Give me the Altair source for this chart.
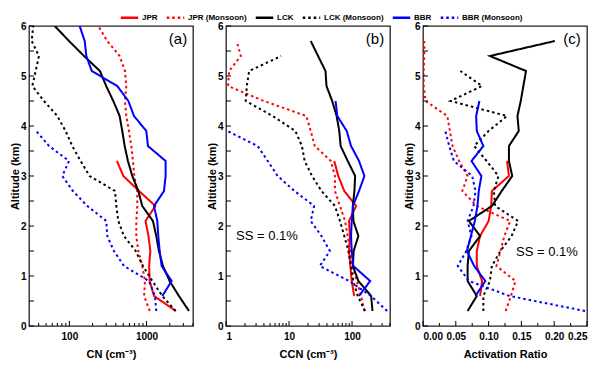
import altair as alt
import pandas as pd

# Altitude grid (km) shared by all profiles
ALT = [0.3, 0.6, 0.9, 1.2, 1.5, 1.8, 2.1, 2.4, 2.7, 3.0,
       3.3, 3.6, 3.9, 4.2, 4.5, 4.8, 5.1, 5.4, 5.7, 6.0]

SERIES = ["JPR", "JPR (Monsoon)", "LCK", "LCK (Monsoon)", "BBR", "BBR (Monsoon)"]
COLORS = ["#ff0000", "#ff0000", "#000000", "#000000", "#0000ff", "#0000ff"]
DASHES = [[1, 0], [2.5, 3], [1, 0], [2.5, 3], [1, 0], [2.5, 3]]

# ---- (a) CN (cm-3); each list starts at the altitude given in frame() below
cn_jpr = [2400, 1250, 1100, 1080, 1120, 1060, 970, 1300, 800, 500, 414]                      # start 0.3
cn_jpr_m = [1100, 930, 954, 881, 783, 737, 737, 760, 759, 694, 667, 635, 592, 547, 525, 547,
            525, 448, 310, 237]                                                              # start 0.3
cn_lck = [3550, 2630, 1991, 1633, 1449, 1337, 1211, 881, 783, 654, 574, 521, 485, 448, 371, 300,
          249, 155, 99, 64.6]                                                                # start 0.3
cn_lck_m = [2380, 1600, 1188, 899, 723, 510, 431, 406, 390, 183, 140, 109, 89.5, 69.8, 46.9, 33.1,
            36.6, 40.4, 32.5, 34]                                                            # start 0.3
cn_bbr = [1600, 2115, 1569, 1479, 1420, 1378, 1250, 1683, 1767, 1767, 1043, 993, 688, 581, 418,
          195, 166, 158, 136]                                                                # start 0.6
cn_bbr_m = [1337, 1286, 1075, 510, 378, 310, 301, 171, 111, 81, 99, 54.5, 37.3]              # start 0.3

# ---- (b) CCN (cm-3)
ccn_jpr = [108, 98.8, 94, 89.5, 92.9, 89.5, 116, 75.3, 60.4, 52.2]                          # start 0.6
ccn_jpr_m = [157, 139, 119, 101, 92.9, 85.3, 77.3, 64.3, 53.5, 53.5, 46.1, 25.6, 22.1, 18.8, 4.0,
             1.08, 1.12, 1.72, 1.48]                                                         # start 0.3
ccn_lck = [211, 201, 126, 103, 106, 126, 105, 103, 109, 112, 85.3, 65.9, 62.7, 56.9, 48.4, 39.3,
           37.9, 28.9, 22.1]                                                                 # start 0.3
ccn_lck_m = [161, 123, 105, 96.4, 87.4, 75.3, 64.3, 53.5, 32.7, 23.2, 17.7, 16.0, 12.6, 5.5, 2.06,
             2.14, 2.33, 7.5]                                                                # start 0.3
ccn_bbr = [129, 194, 105, 98.8, 96.4, 98.8, 103, 129, 157, 129, 96.4, 82.2, 58.3, 54.8]      # start 0.6
ccn_bbr_m = [360, 200, 90, 30.8, 44.5, 32.7, 22.1, 25.0, 12.2, 6.6, 4.6, 3.17, 1.05]        # start 0.3

# ---- (c) Activation ratio
ar_jpr = [0.087, 0.090, 0.082, 0.082, 0.087, 0.100, 0.104, 0.105, 0.131, 0.128]            # start 0.6
ar_jpr_m = [0.126, 0.134, 0.141, 0.112, 0.118, 0.124, 0.133, 0.082, 0.060, 0.068, 0.055, 0.045,
            0.041, 0.037, 0.004, 0.001, 0.001, 0.002, 0.002]                                 # start 0.3
ar_lck = [0.068, 0.082, 0.068, 0.068, 0.070, 0.087, 0.070, 0.105, 0.120, 0.136, 0.131, 0.131,
          0.146, 0.144, 0.149, 0.153, 0.157, 0.102, 0.201]                                   # start 0.3
ar_lck_m = [0.092, 0.092, 0.102, 0.105, 0.118, 0.135, 0.145, 0.110, 0.108, 0.115, 0.097, 0.078,
            0.100, 0.128, 0.042, 0.090, 0.057]                                               # start 0.3
ar_bbr = [0.080, 0.095, 0.078, 0.067, 0.073, 0.079, 0.083, 0.085, 0.089, 0.074, 0.092, 0.082,
          0.081, 0.086]                                                                      # start 0.6
ar_bbr_m = [0.247, 0.132, 0.070, 0.053, 0.066, 0.074, 0.068, 0.077, 0.080, 0.075, 0.047, 0.040,
            0.034]                                                                           # start 0.3

# Tick values
a_major = [100, 1000]
a_minor = [40, 50, 60, 70, 80, 90, 200, 300, 400, 500, 600, 700, 800, 900, 2000, 3000, 4000]
b_major = [1, 10, 100]
b_minor = [2, 3, 4, 5, 6, 7, 8, 9, 20, 30, 40, 50, 60, 70, 80, 90, 200, 300, 400]
c_major = [0.0, 0.05, 0.10, 0.15, 0.20, 0.25]
c_minor = [0.025, 0.075, 0.125, 0.175, 0.225]
y_major = [0, 1, 2, 3, 4, 5, 6]
y_minor = [0.5, 1.5, 2.5, 3.5, 4.5, 5.5]

W, H = 164, 300
FONT = "Liberation Sans"


def frame(series_lists):
    rows = []
    for name, start, vals in series_lists:
        i0 = ALT.index(start)
        for k, v in enumerate(vals):
            rows.append({"series": name, "alt": ALT[i0 + k], "value": v})
    return pd.DataFrame(rows)


df_a = frame([("JPR", 0.3, cn_jpr), ("JPR (Monsoon)", 0.3, cn_jpr_m), ("LCK", 0.3, cn_lck),
              ("LCK (Monsoon)", 0.3, cn_lck_m), ("BBR", 0.6, cn_bbr), ("BBR (Monsoon)", 0.3, cn_bbr_m)])
df_b = frame([("JPR", 0.6, ccn_jpr), ("JPR (Monsoon)", 0.3, ccn_jpr_m), ("LCK", 0.3, ccn_lck),
              ("LCK (Monsoon)", 0.3, ccn_lck_m), ("BBR", 0.6, ccn_bbr), ("BBR (Monsoon)", 0.3, ccn_bbr_m)])
df_c = frame([("JPR", 0.6, ar_jpr), ("JPR (Monsoon)", 0.3, ar_jpr_m), ("LCK", 0.3, ar_lck),
              ("LCK (Monsoon)", 0.3, ar_lck_m), ("BBR", 0.6, ar_bbr), ("BBR (Monsoon)", 0.3, ar_bbr_m)])

yscale = alt.Scale(domain=[0, 6], nice=False, zero=False)

legend = alt.Legend(orient="none", legendX=92, legendY=-17, direction="horizontal", columns=6,
                    title=None, symbolType="M-1.25,0H1.25", symbolStrokeWidth=2.5, symbolSize=196,
                    labelFont=FONT, labelFontWeight="bold", labelFontSize=8, labelColor="black",
                    labelExpr="indexof(datum.label, 'Monsoon') >= 0 ? datum.label + '      ' : datum.label",
                    columnPadding=3, labelOffset=4, padding=0)


def panel(df, xscale, xtitle, xvals, xfmt, major, minor, tag, ss=None, show_legend=False):
    xaxis = alt.Axis(values=xvals, format=xfmt, title=xtitle, ticks=False, domain=False,
                     grid=False, labelPadding=5, titlePadding=7)
    yaxis = alt.Axis(values=y_major, format="d", title="Altitude (km)", ticks=False, domain=False,
                     grid=False, labelPadding=3, titlePadding=0)
    leg = legend if show_legend else None
    lines = alt.Chart(df).mark_line(strokeWidth=2, clip=True).encode(
        x=alt.X("value:Q", scale=xscale, axis=xaxis),
        y=alt.Y("alt:Q", scale=yscale, axis=yaxis),
        color=alt.Color("series:N", scale=alt.Scale(domain=SERIES, range=COLORS), legend=leg),
        strokeDash=alt.StrokeDash("series:N", scale=alt.Scale(domain=SERIES, range=DASHES), legend=leg),
        detail="series:N",
        order=alt.Order("alt:Q"),
    )
    layers = [lines]
    for vals, ln in ((major, 5), (minor, 3)):
        layers.append(alt.Chart(pd.DataFrame({"value": vals})).mark_rule(color="black", strokeWidth=1).encode(
            x=alt.X("value:Q", scale=xscale, axis=xaxis), y=alt.value(H), y2=alt.value(H - ln)))
    for vals, ln in ((y_major, 5), (y_minor, 5)):
        layers.append(alt.Chart(pd.DataFrame({"alt": vals})).mark_rule(color="black", strokeWidth=1).encode(
            y=alt.Y("alt:Q", scale=yscale, axis=yaxis), x=alt.value(0), x2=alt.value(ln)))
    layers.append(alt.Chart(pd.DataFrame({"t": [tag]})).mark_text(
        font=FONT, fontSize=15, color="black", align="center", baseline="middle").encode(
        x=alt.value(149), y=alt.value(13), text="t:N"))
    if ss is not None:
        layers.append(alt.Chart(pd.DataFrame({"t": ["SS = 0.1%"]})).mark_text(
            font=FONT, fontSize=13, color="black", align="left", baseline="middle").encode(
            x=alt.value(ss[0]), y=alt.value(ss[1]), text="t:N"))
    return alt.layer(*layers).properties(width=W, height=H)


pa = panel(df_a, alt.Scale(type="log", domain=[30, 4000], nice=False), "CN (cm⁻³)",
           a_major, "d", a_major, a_minor, "(a)", show_legend=True)
pb = panel(df_b, alt.Scale(type="log", domain=[1, 400], nice=False), "CCN (cm⁻³)",
           b_major, "d", b_major, b_minor, "(b)", ss=(10, 210))
pc = panel(df_c, alt.Scale(domain=[0, 0.25], nice=False, zero=False), "Activation Ratio",
           c_major, ".2f", c_major, c_minor, "(c)", ss=(93, 226))

chart = alt.hconcat(pa, pb, pc, spacing=33, bounds="flush").resolve_scale(
    x="independent", color="independent", strokeDash="independent"
).properties(padding=0).configure_axis(
    labelFont=FONT, labelFontWeight="bold", labelFontSize=10, labelColor="black",
    titleFont=FONT, titleFontWeight="bold", titleFontSize=11, titleColor="black",
).configure_view(stroke="#222", strokeWidth=1.3)

chart.save("out.html", embed_options={"renderer": "svg", "actions": False})
